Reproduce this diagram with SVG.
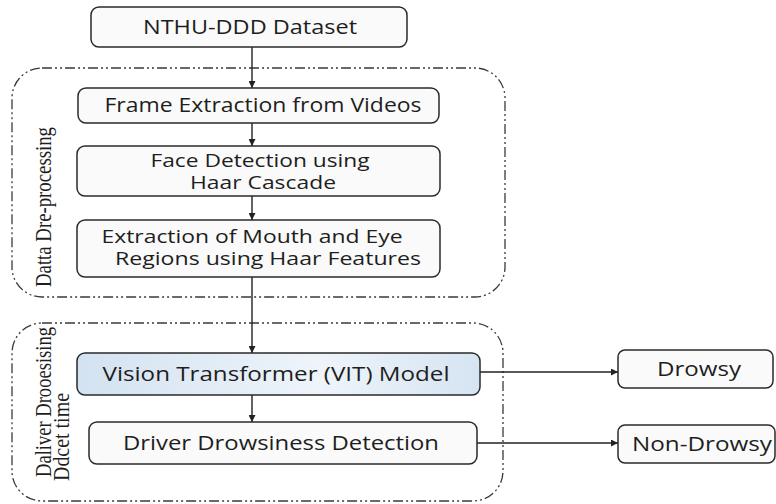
<svg xmlns="http://www.w3.org/2000/svg" width="776" height="504" viewBox="0 0 776 504">
<style>
.box{fill:#fafafa;stroke:#2a2a2a;stroke-width:1.5}
.grp{fill:none;stroke:#3a3a3a;stroke-width:1.3;stroke-dasharray:10 3 2 3 2 3}
.t{font-family:"Open Sans","Liberation Sans",sans-serif;font-size:20px;fill:#1e1e1e;text-anchor:middle}
.t2{font-size:18px}
.lab{font-family:"Liberation Serif",serif;font-size:23px;fill:#1e1e1e;text-anchor:middle}
.con{stroke:#222;stroke-width:1.4;fill:none;marker-end:url(#ah)}
</style>
<defs>
<marker id="ah" viewBox="0 0 10 10" refX="10" refY="5" markerWidth="7" markerHeight="7" markerUnits="userSpaceOnUse" orient="auto">
<path d="M0,0 L10,5 L0,10 z" fill="#222"/>
</marker>
<linearGradient id="vit" x1="0" y1="0" x2="1" y2="0">
<stop offset="0" stop-color="#d3e2f1"/>
<stop offset="0.6" stop-color="#eef4fa"/>
<stop offset="1" stop-color="#d6e4f2"/>
</linearGradient>
</defs>
<rect width="776" height="504" fill="#ffffff"/>
<g id="group-preprocessing">
<rect class="grp" x="12" y="68" width="493" height="229" rx="30"/>
<text class="lab" transform="translate(51,207) rotate(-90)" textLength="160" lengthAdjust="spacingAndGlyphs">Datta Dre-processing</text>
</g>
<g id="group-detection">
<rect class="grp" x="12" y="323" width="491" height="178" rx="30"/>
<text class="lab" transform="translate(51,402) rotate(-90)" textLength="150" lengthAdjust="spacingAndGlyphs">Daliver Drooesising</text>
<text class="lab" transform="translate(69,437) rotate(-90)" textLength="88" lengthAdjust="spacingAndGlyphs">Ddcet time</text>
</g>
<g id="connectors">
<line class="con" x1="252" y1="47" x2="252" y2="88"/>
<line class="con" x1="252" y1="123" x2="252" y2="146"/>
<line class="con" x1="252" y1="196" x2="252" y2="220"/>
<line class="con" x1="252" y1="277" x2="252" y2="353"/>
<line class="con" x1="252" y1="395" x2="252" y2="422"/>
<line class="con" x1="480" y1="372" x2="618" y2="372"/>
<line class="con" x1="477" y1="443" x2="618" y2="443"/>
</g>
<g id="nthu">
<rect class="box" x="91" y="7" width="316" height="40" rx="8"/>
<text class="t" x="250" y="34" textLength="214" lengthAdjust="spacingAndGlyphs">NTHU-DDD Dataset</text>
</g>
<g id="frame">
<rect class="box" x="78" y="88" width="361" height="35" rx="8"/>
<text class="t" x="263" y="112" textLength="317" lengthAdjust="spacingAndGlyphs">Frame Extraction from Videos</text>
</g>
<g id="face">
<rect class="box" x="77" y="146" width="363" height="50" rx="8"/>
<text class="t t2" x="260" y="167" textLength="219" lengthAdjust="spacingAndGlyphs">Face Detection using</text>
<text class="t t2" x="263" y="189" textLength="146" lengthAdjust="spacingAndGlyphs">Haar Cascade</text>
</g>
<g id="extraction">
<rect class="box" x="77" y="220" width="363" height="57" rx="8"/>
<text class="t t2" x="252" y="243" textLength="301" lengthAdjust="spacingAndGlyphs">Extraction of Mouth and Eye</text>
<text class="t t2" x="268" y="265" textLength="306" lengthAdjust="spacingAndGlyphs">Regions using Haar Features</text>
</g>
<g id="vit-model">
<rect x="77" y="353" width="403" height="42" rx="8" fill="url(#vit)" stroke="#2a2a2a" stroke-width="1.5"/>
<text class="t" x="276" y="381" textLength="347" lengthAdjust="spacingAndGlyphs">Vision Transformer (VIT) Model</text>
</g>
<g id="driver">
<rect class="box" x="89" y="422" width="388" height="42" rx="8"/>
<text class="t" x="281" y="450" textLength="316" lengthAdjust="spacingAndGlyphs">Driver Drowsiness Detection</text>
</g>
<g id="drowsy">
<rect class="box" x="618" y="350" width="155" height="38" rx="7"/>
<text class="t" x="699" y="376" textLength="84" lengthAdjust="spacingAndGlyphs">Drowsy</text>
</g>
<g id="non-drowsy">
<rect class="box" x="618" y="425" width="157" height="38" rx="7"/>
<text class="t" x="702" y="451" textLength="140" lengthAdjust="spacingAndGlyphs">Non-Drowsy</text>
</g>
</svg>
